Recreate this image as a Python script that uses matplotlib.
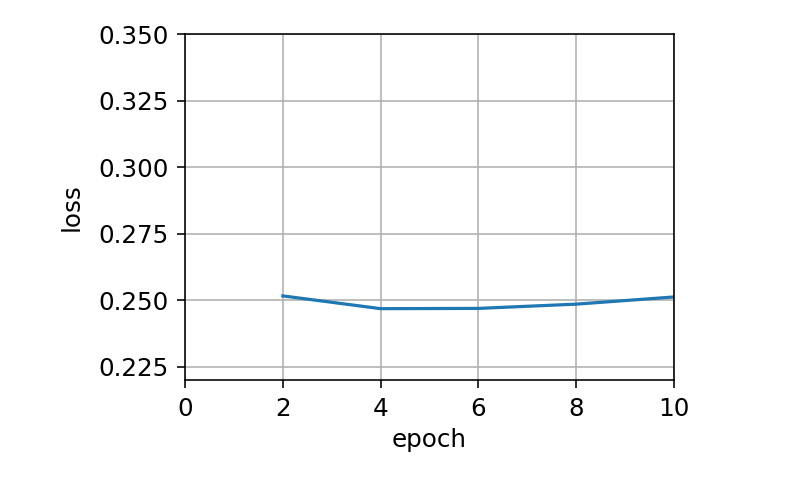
import matplotlib
matplotlib.use("Agg")
import matplotlib.pyplot as plt

epochs = [2, 4, 6, 8, 10]
loss = [0.2516, 0.2468, 0.2469, 0.2485, 0.2512]
xticks = [0, 2, 4, 6, 8, 10]
yticks = [0.225, 0.250, 0.275, 0.300, 0.325, 0.350]

plt.rcParams['font.size'] = 12.3
plt.rcParams['xtick.major.pad'] = 4.5
plt.rcParams['ytick.major.pad'] = 4.5
plt.rcParams['xtick.major.size'] = 3.8
plt.rcParams['ytick.major.size'] = 3.8
fig = plt.figure(figsize=(790/144, 480/144), dpi=144)
ax = fig.add_axes([185/790, 1-380/480, (674-185)/790, (380-34)/480])
ax.plot(epochs, loss, color='#1f77b4', linewidth=1.6)
ax.set_xlim(0, 10)
ax.set_ylim(0.22, 0.35)
ax.set_xticks(xticks)
ax.set_yticks(yticks)
ax.set_xlabel('epoch', labelpad=3.5)
ax.set_ylabel('loss', labelpad=7)
ax.grid(True)
fig.savefig('out.png', dpi=144)
